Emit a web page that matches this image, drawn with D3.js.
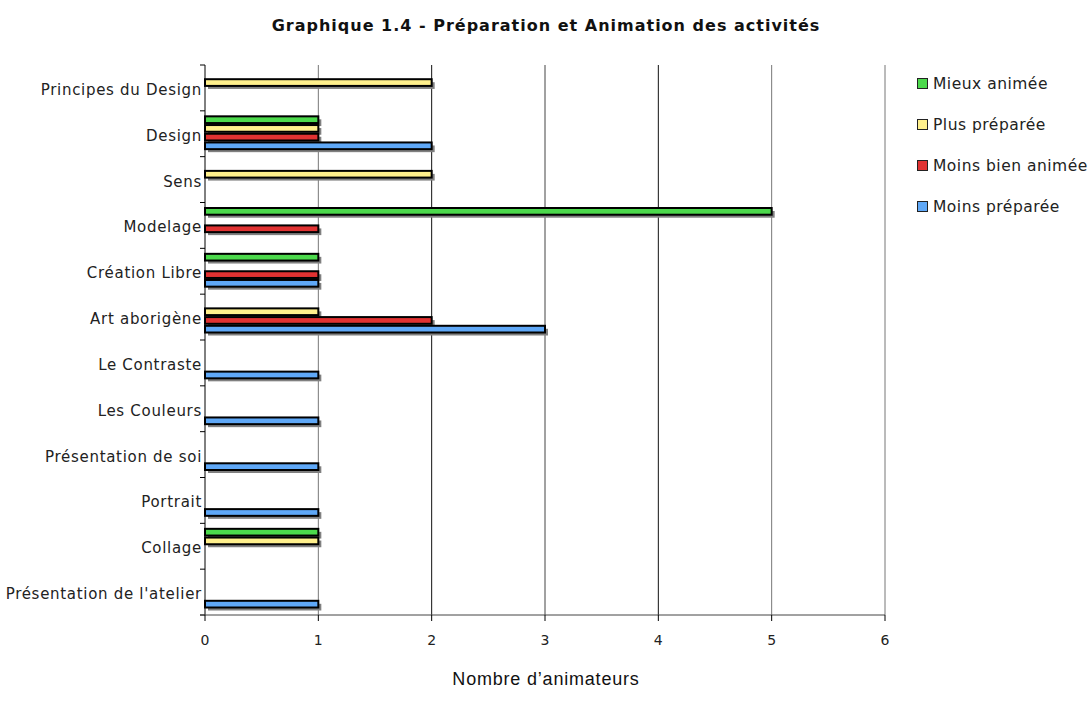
<!DOCTYPE html>
<html>
<head>
<meta charset="utf-8">
<script src="https://cdn.jsdelivr.net/npm/d3@7"></script>
<style>
  body { margin: 0; background: #fff; }
  svg { display: block; }
</style>
</head>
<body>
<div id="chart"></div>
<script>
const categories = ["Principes du Design", "Design", "Sens", "Modelage", "Création Libre", "Art aborigène",
  "Le Contraste", "Les Couleurs", "Présentation de soi", "Portrait", "Collage", "Présentation de l'atelier"]
const seriesNames = ["Mieux animée", "Plus préparée", "Moins bien animée", "Moins préparée"]
const seriesColors = ["#4cd94c", "#fff08c", "#e03232", "#5fa8f7"]
const mieuxAnimee     = [0, 1, 0, 5, 1, 0, 0, 0, 0, 0, 1, 0]
const plusPreparee    = [2, 1, 2, 0, 0, 1, 0, 0, 0, 0, 1, 0]
const moinsBienAnimee = [0, 1, 0, 1, 1, 2, 0, 0, 0, 0, 0, 0]
const moinsPreparee   = [0, 2, 0, 0, 1, 3, 1, 1, 1, 1, 0, 1]
const xTicks = [0, 1, 2, 3, 4, 5, 6]

const seriesValues = [mieuxAnimee, plusPreparee, moinsBienAnimee, moinsPreparee]

const W = 1092, H = 711
const pLeft = 205, pRight = 885, pTop = 65, pBottom = 615

const svg = d3.select("#chart").append("svg")
  .attr("width", W).attr("height", H)

const x = d3.scaleLinear().domain([0, 6]).range([pLeft, pRight])
const y = d3.scaleBand().domain(categories).range([pTop, pBottom])
const bw = y.bandwidth()
const ySub = d3.scaleBand().domain(seriesNames).range([bw * 0.12, bw * 0.88])

// title
svg.append("text")
  .attr("x", 546).attr("y", 31)
  .attr("text-anchor", "middle")
  .style("font-family", "DejaVu Sans, Verdana, sans-serif")
  .style("font-weight", "bold")
  .style("font-size", "16px")
  .style("letter-spacing", "1px")
  .attr("fill", "#111")
  .text("Graphique 1.4 - Préparation et Animation des activités")

// vertical gridlines
const gridColors = ["#777", "#111", "#444", "#111", "#777", "#777"]
svg.append("g").selectAll("line")
  .data(xTicks.slice(1))
  .enter().append("line")
  .attr("x1", d => x(d)).attr("x2", d => x(d))
  .attr("y1", pTop).attr("y2", pBottom)
  .attr("stroke", (d, i) => gridColors[i])
  .attr("stroke-width", 1)

// bars
const rows = []
categories.forEach(function(c, i) {
  seriesNames.forEach(function(s, j) {
    if (seriesValues[j][i] > 0) rows.push({ cat: c, series: s, value: seriesValues[j][i], color: seriesColors[j] })
  })
})

const barH = ySub.bandwidth() - 2

svg.append("g").selectAll("rect")
  .data(rows)
  .enter().append("rect")
  .attr("x", x(0) + 3)
  .attr("y", d => y(d.cat) + ySub(d.series) + 3)
  .attr("width", d => x(d.value) - x(0))
  .attr("height", barH)
  .attr("fill", "#808080")

svg.append("g").selectAll("rect")
  .data(rows)
  .enter().append("rect")
  .attr("x", x(0))
  .attr("y", d => y(d.cat) + ySub(d.series))
  .attr("width", d => x(d.value) - x(0))
  .attr("height", barH)
  .attr("fill", d => d.color)
  .attr("stroke", "#000")
  .attr("stroke-width", 2)

// y axis
svg.append("line")
  .attr("x1", pLeft).attr("x2", pLeft).attr("y1", pTop).attr("y2", pBottom)
  .attr("stroke", "#000")
svg.append("g").selectAll("line")
  .data(categories.concat(["end"]))
  .enter().append("line")
  .attr("x1", pLeft - 5).attr("x2", pLeft)
  .attr("y1", (d, i) => pTop + i * bw).attr("y2", (d, i) => pTop + i * bw)
  .attr("stroke", "#000")

svg.append("g").selectAll("text")
  .data(categories)
  .enter().append("text")
  .attr("x", pLeft - 3)
  .attr("y", d => y(d) + bw / 2 + 7)
  .attr("text-anchor", "end")
  .style("font-family", "DejaVu Sans, Verdana, sans-serif")
  .style("font-size", "15px")
  .style("letter-spacing", "0.7px")
  .attr("fill", "#222")
  .text(d => d)

// x axis
svg.append("line")
  .attr("x1", pLeft - 5).attr("x2", pRight).attr("y1", pBottom).attr("y2", pBottom)
  .attr("stroke", "#444")
svg.append("g").selectAll("line")
  .data(xTicks)
  .enter().append("line")
  .attr("x1", d => x(d)).attr("x2", d => x(d))
  .attr("y1", pBottom).attr("y2", pBottom + 6)
  .attr("stroke", "#000")
svg.append("g").selectAll("text")
  .data(xTicks)
  .enter().append("text")
  .attr("x", d => x(d))
  .attr("y", pBottom + 30)
  .attr("text-anchor", "middle")
  .style("font-family", "DejaVu Sans, Verdana, sans-serif")
  .style("font-size", "14px")
  .attr("fill", "#222")
  .text(d => d)

svg.append("text")
  .attr("x", 546).attr("y", 685)
  .attr("text-anchor", "middle")
  .style("font-family", "Liberation Sans, Arial, sans-serif")
  .style("font-size", "18px")
  .style("letter-spacing", "0.8px")
  .attr("fill", "#111")
  .text("Nombre d’animateurs")

// legend
const legend = svg.append("g").selectAll("g")
  .data(seriesNames)
  .enter().append("g")
  .attr("transform", (d, i) => "translate(917," + (78 + i * 41) + ")")
legend.append("rect")
  .attr("x", 0.5).attr("y", 0.5).attr("width", 10).attr("height", 10)
  .attr("fill", (d, i) => seriesColors[i])
  .attr("stroke", "#222")
  .attr("stroke-width", 1)
legend.append("text")
  .attr("x", 16).attr("y", 11)
  .style("font-family", "DejaVu Sans, Verdana, sans-serif")
  .style("font-size", "15.5px")
  .style("letter-spacing", "0.5px")
  .attr("fill", "#222")
  .text(d => d)
</script>
</body>
</html>
